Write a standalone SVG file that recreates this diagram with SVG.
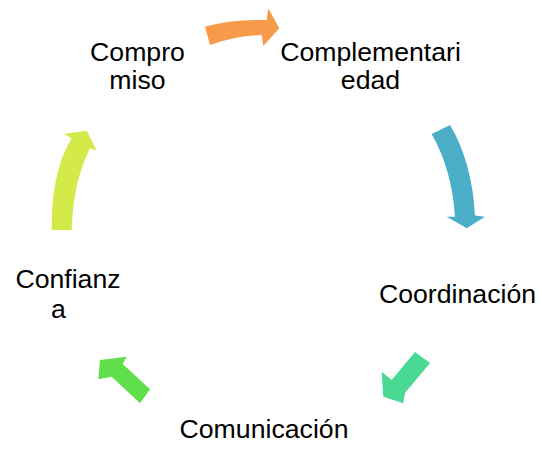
<svg xmlns="http://www.w3.org/2000/svg" width="542" height="449" viewBox="0 0 542 449">
<style>
text{font-family:"Liberation Sans",Arial,sans-serif;font-size:26.67px;fill:#000;text-anchor:middle}
</style>
<rect width="542" height="449" fill="#fff"/>
<g id="connectors">
<path d="M205,26.7 Q232,19 266.7,20 L268.3,8.3 L279.3,28.3 L263.3,46 L261.7,35 Q234,36 210,45 Z" fill="#F79A4A"/>
<path d="M450,125 Q472,162 475,215.5 L485,216.7 L466.7,228.3 L446.7,216.7 L455,216.7 Q452,170 431.7,134 Z" fill="#4BAEC8"/>
<path d="M415,352 L430,363 L405,393 L403.3,403.3 L383.3,396.7 L381.7,371.7 L391.7,380 Z" fill="#4AD993"/>
<path d="M100,360 L126.7,356.7 L122.7,364 L150,389.3 L140,403.3 L111.7,376.7 L98.3,379.3 Z" fill="#5FE04B"/>
<path d="M51.7,230 Q51,172 71.7,138.3 L64,134 L86.7,130.7 L96.7,150.7 L90,148.3 Q73,182 71.7,230 Z" fill="#D4EA48"/>
</g>
<g id="n-compromiso"><text x="137.5" y="60.5">Compro</text><text x="137.5" y="89">miso</text></g>
<g id="n-complementariedad"><text x="370.5" y="60.5">Complementari</text><text x="370.5" y="89">edad</text></g>
<g id="n-coordinacion"><text x="457.5" y="303">Coordinación</text></g>
<g id="n-comunicacion"><text x="264" y="438">Comunicación</text></g>
<g id="n-confianza"><text x="68" y="288">Confianz</text><text x="58.5" y="318">a</text></g>
</svg>
